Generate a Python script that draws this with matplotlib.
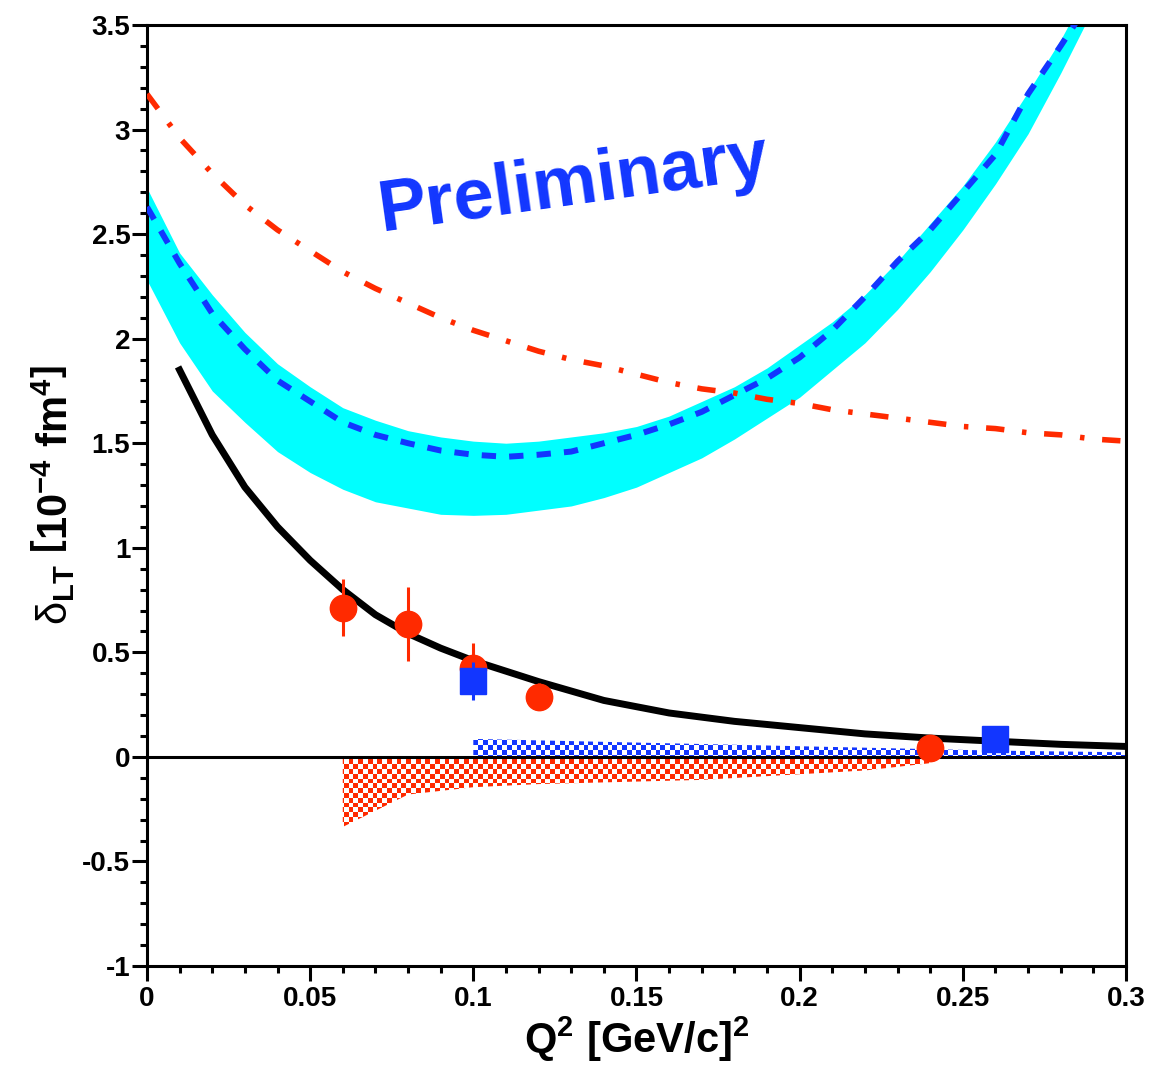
import matplotlib
matplotlib.use('Agg')
import matplotlib.pyplot as plt
import numpy as np
from matplotlib.colors import to_rgba
from matplotlib.ticker import MultipleLocator, FuncFormatter

# --- datos ---
q2_grid = [0.0, 0.01, 0.02, 0.03, 0.04, 0.05, 0.06, 0.07, 0.08, 0.09, 0.10,
           0.11, 0.12, 0.13, 0.14, 0.15, 0.16, 0.17, 0.18, 0.19, 0.20,
           0.21, 0.22, 0.23, 0.24, 0.25, 0.26, 0.27, 0.28, 0.29]
band_hi = [2.72, 2.41, 2.21, 2.03, 1.88, 1.77, 1.67, 1.61, 1.56, 1.53, 1.51,
           1.50, 1.51, 1.53, 1.55, 1.58, 1.63, 1.70, 1.77, 1.86, 1.97,
           2.08, 2.21, 2.37, 2.55, 2.73, 2.94, 3.18, 3.43, 3.72]
band_lo = [2.28, 1.98, 1.75, 1.60, 1.46, 1.36, 1.28, 1.22, 1.19, 1.16, 1.155,
           1.16, 1.18, 1.20, 1.24, 1.29, 1.36, 1.43, 1.52, 1.62, 1.72,
           1.85, 1.98, 2.14, 2.32, 2.52, 2.74, 2.98, 3.27, 3.58]
band_mid = [2.63, 2.36, 2.12, 1.95, 1.80, 1.70, 1.60, 1.54, 1.50, 1.465, 1.445,
            1.435, 1.445, 1.46, 1.50, 1.54, 1.59, 1.65, 1.73, 1.81, 1.91,
            2.04, 2.20, 2.37, 2.52, 2.70, 2.88, 3.17, 3.40, 3.64]

q2_red = [0.0, 0.01, 0.02, 0.03, 0.04, 0.05, 0.06, 0.07, 0.08, 0.09, 0.10,
          0.11, 0.12, 0.13, 0.14, 0.15, 0.16, 0.17, 0.18, 0.19, 0.20,
          0.21, 0.22, 0.23, 0.24, 0.25, 0.26, 0.27, 0.28, 0.29, 0.30]
red_curve = [3.17, 2.96, 2.79, 2.64, 2.52, 2.42, 2.32, 2.24, 2.17, 2.10, 2.04,
             1.99, 1.94, 1.90, 1.87, 1.83, 1.79, 1.76, 1.74, 1.71, 1.69,
             1.66, 1.64, 1.62, 1.60, 1.58, 1.57, 1.55, 1.54, 1.52, 1.51]

q2_black = [0.01, 0.02, 0.03, 0.04, 0.05, 0.06, 0.07, 0.08, 0.09, 0.10,
            0.12, 0.14, 0.16, 0.18, 0.20, 0.22, 0.24, 0.26, 0.28, 0.30]
black_curve = [1.85, 1.54, 1.29, 1.10, 0.94, 0.80, 0.68, 0.59, 0.52, 0.46,
               0.36, 0.27, 0.21, 0.17, 0.14, 0.11, 0.09, 0.075, 0.06, 0.05]

# puntos rojos
q2_pts = [0.06, 0.08, 0.10, 0.12, 0.24]
d_pts = [0.714, 0.636, 0.427, 0.288, 0.043]
e_pts = [0.135, 0.177, 0.12, 0.065, 0.0]

# cuadrados azules
q2_sq = [0.10, 0.26]
d_sq = [0.364, 0.085]
e_sq = [0.09, 0.0]

# sistematicos
q2_sys_red = [0.06, 0.08, 0.10, 0.12, 0.17, 0.22, 0.24]
sys_red = [-0.335, -0.18, -0.145, -0.13, -0.11, -0.065, -0.03]
q2_sys_blue = [0.10, 0.26, 0.30]
sys_blue = [0.086, 0.03, 0.022]

rojo = '#ff2a00'
azul = '#1236ff'
cian = '#00ffff'

plt.rcParams['font.family'] = 'Liberation Sans'
plt.rcParams['axes.unicode_minus'] = False
plt.rcParams['mathtext.fontset'] = 'custom'
plt.rcParams['mathtext.rm'] = 'Liberation Sans:bold'
plt.rcParams['mathtext.bf'] = 'Liberation Sans:bold'
plt.rcParams['mathtext.it'] = 'Liberation Sans:bold:italic'
plt.rcParams['mathtext.sf'] = 'Liberation Sans'

fig = plt.figure(figsize=(11.73, 10.68), dpi=100)
ax = fig.add_axes([0.1253, 0.0955, 0.8346, 0.8811])

xmin, xmax, ymin, ymax = 0.0, 0.3, -1.0, 3.5


def cuadriculado(x, y1, y2, color):
    # banda de cuadritos (tablero de ajedrez) recortada al poligono
    poly = ax.fill_between(x, y1, y2, facecolor='none', edgecolor='none')
    ny, nx = 196, 204
    ii, jj = np.indices((ny, nx))
    rgba = np.zeros((ny, nx, 4))
    rgba[(ii + jj) % 2 == 0] = to_rgba(color)
    im = ax.imshow(rgba, extent=(xmin, xmax, ymin, ymax), aspect='auto',
                   interpolation='nearest', zorder=2, origin='lower')
    im.set_clip_path(poly.get_paths()[0], transform=ax.transData)


# banda cian
ax.fill_between(q2_grid, band_lo, band_hi, color=cian, lw=0, zorder=1)

# bandas sistematicas
cuadriculado(q2_sys_red, sys_red, np.zeros(len(sys_red)), rojo)
cuadriculado(q2_sys_blue, np.zeros(len(sys_blue)), sys_blue, azul)

# curvas
ax.plot(q2_red, red_curve, color=rojo, lw=4, dashes=(3.3, 3.2, 0.8, 3.2),
        dash_capstyle='butt', zorder=3)
ax.plot(q2_grid, band_mid, color=azul, lw=4.3, dashes=(2.4, 2.2),
        dash_capstyle='butt', zorder=4)
ax.plot(q2_black, black_curve, color='black', lw=5, zorder=5)

# linea cero
ax.axhline(0, color='black', lw=2.2, zorder=5)

# datos
ax.errorbar(q2_pts, d_pts, yerr=e_pts, fmt='o', color=rojo, ms=19,
            elinewidth=2.2, capsize=0, zorder=6)
ax.errorbar(q2_sq, d_sq, yerr=e_sq, fmt='s', color=azul, ms=19,
            elinewidth=2.2, capsize=0, zorder=7)

# texto
ax.text(0.1306, 2.737, 'Preliminary', color=azul, fontsize=52,
        fontweight='bold', rotation=8, ha='center', va='center',
        rotation_mode='anchor')

ax.set_xlim(xmin, xmax)
ax.set_ylim(ymin, ymax)

ax.xaxis.set_major_locator(MultipleLocator(0.05))
ax.xaxis.set_minor_locator(MultipleLocator(0.01))
ax.yaxis.set_major_locator(MultipleLocator(0.5))
ax.yaxis.set_minor_locator(MultipleLocator(0.1))
fmt = FuncFormatter(lambda v, p: '%g' % round(v, 3))
ax.xaxis.set_major_formatter(fmt)
ax.yaxis.set_major_formatter(fmt)

ax.tick_params(which='major', direction='out', length=10.5, width=2.2,
               labelsize=20, top=False, right=False)
ax.tick_params(axis='x', which='major', pad=4)
ax.tick_params(axis='y', which='major', pad=1.5)
ax.tick_params(which='minor', direction='out', length=5, width=2.2,
               top=False, right=False)
for lab in ax.get_xticklabels() + ax.get_yticklabels():
    lab.set_fontweight('bold')
for s in ax.spines.values():
    s.set_linewidth(2.2)

ax.set_xlabel(r'$\mathrm{Q^{2}\ [GeV/c]^{2}}$', fontsize=30, labelpad=2)
ax.set_ylabel(r'$\mathsf{\delta}_{\mathrm{LT}}\ \left[\mathrm{10^{-4}\ fm^{4}}\right]$',
              fontsize=30, labelpad=4)

fig.savefig('out.png', dpi=100)
